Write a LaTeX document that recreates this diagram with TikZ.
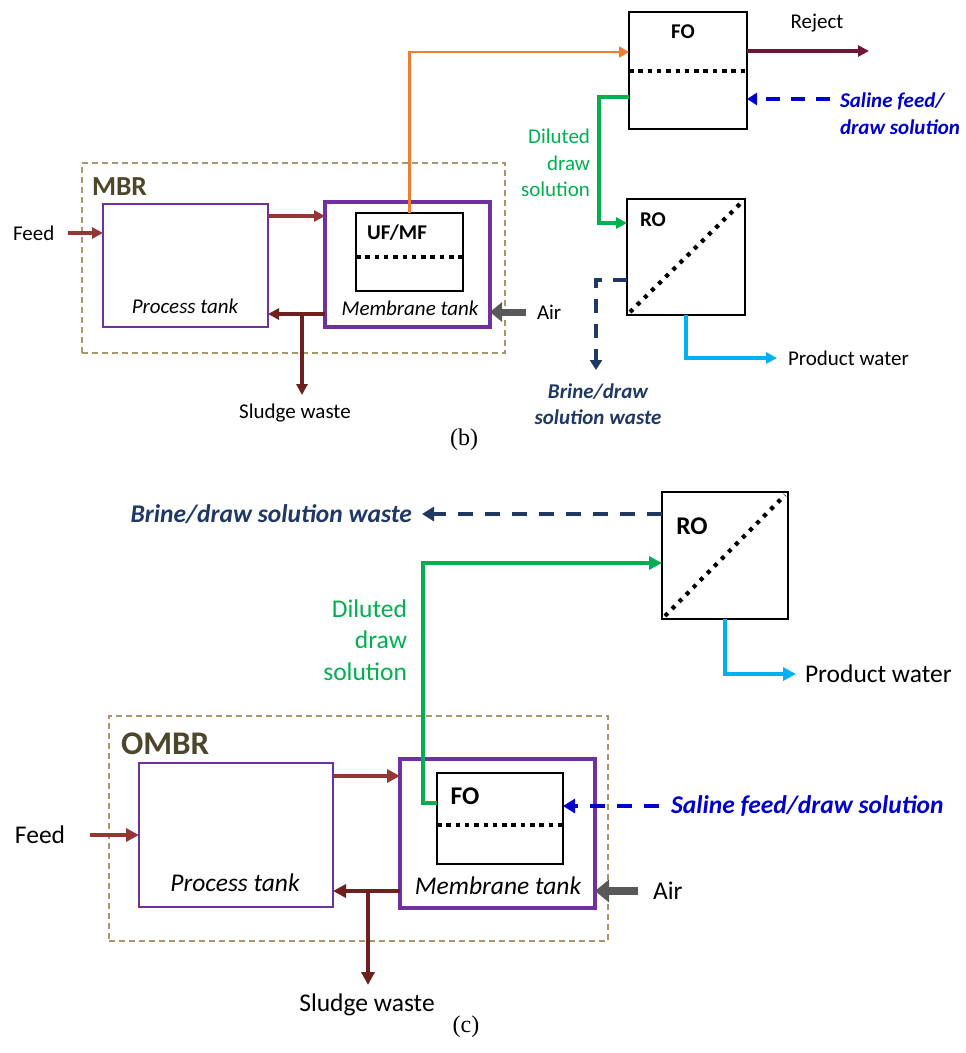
\documentclass[tikz,border=0pt]{standalone}
\usepackage{fontspec}
\setmainfont{Carlito}
\newfontfamily\tnr{Liberation Serif}
\usetikzlibrary{arrows.meta,fit,calc}
\definecolor{tanc}{RGB}{166,152,106}
\definecolor{olivec}{RGB}{76,70,42}
\definecolor{purp}{RGB}{112,48,160}
\definecolor{feedred}{RGB}{150,54,52}
\definecolor{sludgec}{RGB}{110,32,30}
\definecolor{orng}{RGB}{237,125,49}
\definecolor{rejc}{RGB}{112,20,56}
\definecolor{salblue}{RGB}{0,0,204}
\definecolor{grn}{RGB}{0,176,80}
\definecolor{navyc}{RGB}{31,56,100}
\definecolor{prodc}{RGB}{0,176,240}
\definecolor{airgray}{RGB}{89,89,89}
\begin{document}
\begin{tikzpicture}[x=1pt,y=-1pt,
  every node/.style={inner sep=0pt, outer sep=0pt},
  grpbox/.style={draw=tanc, line width=1.8pt, dash pattern=on 6pt off 4pt, inner sep=0pt, outer sep=0pt},
  ptank/.style={draw=purp, line width=1.7pt, inner sep=0pt, outer sep=0pt},
  mtankb/.style={draw=purp, line width=3.2pt, inner sep=0pt, outer sep=0pt},
  mtankc/.style={draw=purp, line width=3.6pt, inner sep=0pt, outer sep=0pt},
  bbox/.style={draw=black, line width=2.4pt, inner sep=0pt, outer sep=0pt},
  dotsline/.style={line width=4.5pt, dash pattern=on 4.5pt off 4.8pt},
  dotdiag/.style={line width=4.2pt, dash pattern=on 4pt off 6pt},
  tb/.style={font=\fontsize{21}{26}\selectfont},
  tc/.style={font=\fontsize{25.5}{31}\selectfont},
  itb/.style={font=\fontsize{21}{26}\selectfont\itshape},
  itc/.style={font=\fontsize{25.5}{31}\selectfont\itshape},
  bdb/.style={font=\fontsize{21}{26}\selectfont\bfseries},
  bdc/.style={font=\fontsize{25.5}{31}\selectfont\bfseries},
  arrb/.style={line width=3.2pt, -{Triangle[length=11pt,width=11pt]}},
  arrc/.style={line width=3.6pt, -{Triangle[length=13pt,width=13pt]}},
  dasharrb/.style={line width=3.6pt, dash pattern=on 14pt off 11pt, -{Triangle[length=10pt,width=12pt]}},
  dasharrc/.style={line width=4pt, dash pattern=on 15pt off 12pt, -{Triangle[length=12pt,width=14pt]}},
  airb/.style={draw=airgray, line width=7pt, -{Triangle[length=12pt,width=19pt]}},
  airc/.style={draw=airgray, line width=8pt, -{Triangle[length=14pt,width=22pt]}}
]
\useasboundingbox (0,0) rectangle (966,1053);

%%%%%%%%%%%%%%%% (b)
\node[grpbox, fit={(82,163)(505,353)}] (mbr) {};
\node[anchor=west, font=\fontsize{27.5}{30}\selectfont\bfseries, text=olivec] (mbrl) at (92,187) {MBR};
\node[ptank, fit={(103,204)(268,327)}] (ptb) {};
\node[mtankb, fit={(325,202)(490,327)}] (mtb) {};
\node[bbox, fit={(356,213)(463,291)}] (ufb) {};
\node[bdb] (ufl) at (397,233) {UF/MF};
\draw[dotsline] (ufb.west |- 0,257) -- (ufb.east |- 0,257);
\node[itb] (ptbl) at (185,306) {Process tank};
\node[itb] (mtbl) at (410,308) {Membrane tank};

\node[tb, anchor=west] (feedb) at (13,233) {Feed};
\draw[arrb, feedred] ([xshift=14pt]feedb.east) -- (ptb.west |- feedb.east);
\draw[arrb, feedred] ([yshift=-12pt]ptb.north east) coordinate (tb1) -- (mtb.west |- tb1);
\draw[arrb, sludgec] ([yshift=13pt]mtb.south west) coordinate (rb) -- (ptb.east |- rb);
\coordinate (jb) at (302,314);
\node[tb] (sludgeb) at (295,413) {Sludge waste};
\coordinate (sbend) at (302,395);
\draw[arrb, sludgec] (jb) -- (sbend);
\node[tb, anchor=west] (airbl) at (537,312) {Air};
\draw[airb] ([xshift=-11pt]airbl.west) -- (mtb.east |- airbl.west);

\node[bbox, fit={(629,12)(747,129)}] (fob) {};
\node[bdb] (fobl) at (683,32) {FO};
\draw[dotsline] (fob.west |- 0,71) -- (fob.east |- 0,71);
\draw[orng, line width=2.8pt, -{Triangle[length=10pt,width=11pt]}] (ufb.north) |- ([yshift=18.5pt]fob.west);

\node[tb] (rejb) at (817,23) {Reject};
\coordinate (rejend) at (869,51);
\draw[arrb, rejc] (fob.east |- rejend) -- (rejend);

\node[anchor=west, align=left, font=\fontsize{21}{27}\selectfont\bfseries\itshape, text=salblue] (salb) at (840,113.5) {Saline feed/\\draw solution};
\coordinate (salbs) at (830,99);
\draw[dasharrb, salblue] (salbs) -- (fob.east |- salbs);

\node[bbox, fit={(627,199)(745,315)}] (rob) {};
\node[bdb] (robl) at (653,220) {RO};
\draw[dotdiag] ([shift={(3pt,3pt)}]rob.south west) -- ([shift={(-3pt,-3pt)}]rob.north east);

\draw[grn, arrb] ([yshift=-26.5pt]fob.west) -- ++(-30,0) |- ([yshift=34pt]rob.west);
\node[anchor=east, align=right, font=\fontsize{21}{26.5}\selectfont, text=grn] (dilb) at (590,163) {Diluted\\draw\\solution};

\node[align=center, font=\fontsize{21}{26}\selectfont\bfseries\itshape, text=navyc] (brb) at (598,404) {Brine/draw\\solution waste};
\coordinate (brtip) at (596,370);
\draw[dasharrb, navyc] ([yshift=-23pt]rob.west) -| (brtip);

\node[tb, anchor=west] (prodb) at (788,358) {Product water};
\draw[arrb, prodc] (rob.south) |- ([xshift=-11pt]prodb.west);

\node[font=\tnr\fontsize{24}{28}\selectfont] (labb) at (464,440) {(b)};

%%%%%%%%%%%%%%%% (c)
\node[grpbox, fit={(109,716)(608,941)}] (ombr) {};
\node[anchor=west, font=\fontsize{33}{36}\selectfont\bfseries, text=olivec] (ombrl) at (121,744) {OMBR};
\node[ptank, fit={(139,763)(333,907)}] (ptc) {};
\node[mtankc, fit={(400,759)(595,908)}] (mtc) {};
\node[bbox, fit={(437,773)(563,864)}] (foc) {};
\node[bdc] (focl) at (465,796) {FO};
\draw[dotsline] (foc.west |- 0,825) -- (foc.east |- 0,825);
\node[itc] (ptcl) at (235,883) {Process tank};
\node[itc] (mtcl) at (498,886) {Membrane tank};

\node[tc, anchor=west] (feedc) at (15,835) {Feed};
\draw[arrc, feedred] ([xshift=25pt]feedc.east) -- (ptc.west |- feedc.east);
\draw[arrc, feedred] ([yshift=-13pt]ptc.north east) coordinate (tc1) -- (mtc.west |- tc1);
\draw[arrc, sludgec] ([yshift=17pt]mtc.south west) coordinate (rc) -- (ptc.east |- rc);
\coordinate (jc) at (368,891);
\node[tc] (sludgec) at (367,1005) {Sludge waste};
\coordinate (scend) at (368,985);
\draw[arrc, sludgec] (jc) -- (scend);
\node[tc, anchor=west] (aircl) at (653,891) {Air};
\draw[airc] ([xshift=-15pt]aircl.west) -- (mtc.east |- aircl.west);

\node[anchor=west, font=\fontsize{25.5}{31}\selectfont\bfseries\itshape, text=salblue] (salc) at (671,806) {Saline feed/draw solution};
\draw[dasharrc, salblue] ([xshift=-12pt]salc.west) -- (foc.east |- salc.west);

\node[bbox, fit={(662,492)(788,619)}] (roc) {};
\node[bdc] (rocl) at (692,526) {RO};
\draw[dotdiag] ([shift={(3pt,3pt)}]roc.south west) -- ([shift={(-3pt,-3pt)}]roc.north east);

\draw[grn, arrc] ([yshift=15.5pt]foc.west) -- ++(-14,0) |- ([yshift=-7.5pt]roc.west);
\node[anchor=east, align=right, font=\fontsize{25.5}{31.5}\selectfont, text=grn] (dilc) at (407,640) {Diluted\\draw\\solution};

\node[anchor=east, font=\fontsize{25.5}{31}\selectfont\bfseries\itshape, text=navyc] (brc) at (412,514) {Brine/draw solution waste};
\draw[dasharrc, navyc] ([yshift=41.5pt]roc.west) -- ([xshift=10pt]brc.east);

\node[tc, anchor=west] (prodcl) at (805,674) {Product water};
\draw[arrc, prodc] (roc.south) |- ([xshift=-9pt]prodcl.west);

\node[font=\tnr\fontsize{24}{28}\selectfont] (labc) at (466,1027) {(c)};
\end{tikzpicture}
\end{document}
